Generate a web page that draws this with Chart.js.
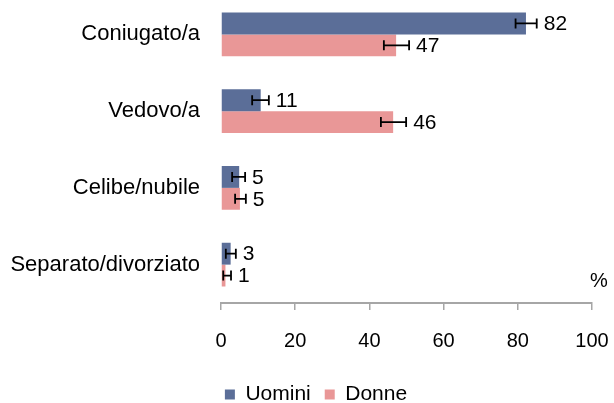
<!DOCTYPE html>
<html><head><meta charset="utf-8">
<script src="https://cdn.jsdelivr.net/npm/chart.js@4.4.1/dist/chart.umd.min.js"></script>
<style>html,body{margin:0;padding:0;background:#fff;overflow:hidden}#wrap{width:614px;height:407px;position:relative;margin-top:-4px}</style>
</head><body><div id="wrap"><canvas id="c"></canvas></div>
<script>
const categories = ['Coniugato/a', 'Vedovo/a', 'Celibe/nubile', 'Separato/divorziato'];
const seriesNames = ['Uomini', 'Donne'];
const uomini = [82.2, 10.7, 4.9, 2.6];
const donne = [47.2, 46.4, 5.1, 1.2];
const uominiLow = [79.4, 8.4, 3.0, 1.3];
const uominiHigh = [85.1, 12.9, 6.5, 4.0];
const donneLow = [43.9, 43.1, 3.8, 0.6];
const donneHigh = [50.7, 49.9, 6.7, 2.7];
const xTicks = [0, 20, 40, 60, 80, 100];
const unitLabel = '%';

const FONT = "'Liberation Sans', Arial, sans-serif";
const lows = [uominiLow, donneLow];
const highs = [uominiHigh, donneHigh];

const errorAndLabels = {
  id: 'errorAndLabels',
  afterLayout(chart) {
    if (chart.legend) { chart.legend.left += 20; chart.legend.right += 20; }
  },
  afterDatasetsDraw(chart) {
    const ctx = chart.ctx;
    const xs = chart.scales.x;
    ctx.save();
    chart.data.datasets.forEach((ds, di) => {
      const meta = chart.getDatasetMeta(di);
      meta.data.forEach((el, i) => {
        const x1 = xs.getPixelForValue(lows[di][i]);
        const x2 = xs.getPixelForValue(highs[di][i]);
        const y = el.y;
        ctx.strokeStyle = '#000';
        ctx.lineWidth = 1.8;
        ctx.beginPath();
        ctx.moveTo(x1, y); ctx.lineTo(x2, y);
        ctx.moveTo(x1, y - 5); ctx.lineTo(x1, y + 5);
        ctx.moveTo(x2, y - 5); ctx.lineTo(x2, y + 5);
        ctx.stroke();
        ctx.fillStyle = '#000';
        ctx.font = '21px ' + FONT;
        ctx.textAlign = 'left';
        ctx.textBaseline = 'middle';
        ctx.fillText(String(Math.round(ds.data[i])), x2 + 7, y + 1);
      });
    });
    ctx.font = '20px ' + FONT;
    ctx.textAlign = 'left';
    ctx.textBaseline = 'middle';
    ctx.fillText(unitLabel, xs.right - 2, chart.chartArea.bottom - 22);
    ctx.restore();
  }
};

new Chart(document.getElementById('c'), {
  type: 'bar',
  data: {
    labels: categories,
    datasets: [
      { label: seriesNames[0], data: uomini, backgroundColor: '#5B6E98' },
      { label: seriesNames[1], data: donne, backgroundColor: '#E99797' }
    ]
  },
  options: {
    indexAxis: 'y',
    responsive: true,
    maintainAspectRatio: false,
    animation: false,
    datasets: { bar: { categoryPercentage: 0.57, barPercentage: 1.0 } },
    layout: { padding: { top: 0, right: 22, left: 0, bottom: -12 } },
    scales: {
      x: {
        min: 0, max: 100,
        afterBuildTicks(s) { s.ticks = xTicks.map(v => ({ value: v })); },
        afterFit(s) { s.height = 67; s.paddingLeft = 0; s.paddingRight = 0; },
        grid: { drawOnChartArea: false, drawTicks: true, tickLength: 7, color: '#a6a6a6', lineWidth: 1.5 },
        border: { display: true, color: '#a6a6a6', width: 2 },
        ticks: { color: '#000', padding: 19, font: { family: FONT, size: 20 }, maxRotation: 0 }
      },
      y: {
        afterFit(s) { s.width = 221; s.paddingTop = 0; s.paddingBottom = 0; },
        grid: { display: false, drawTicks: false },
        border: { display: false },
        ticks: { color: '#000', padding: 21, font: { family: FONT, size: 22 } }
      }
    },
    plugins: {
      legend: {
        position: 'bottom',
        labels: { boxWidth: 10, boxHeight: 10, color: '#000', padding: 14, font: { family: FONT, size: 21 } }
      },
      tooltip: { enabled: false }
    }
  },
  plugins: [errorAndLabels]
});
</script>
</body></html>
